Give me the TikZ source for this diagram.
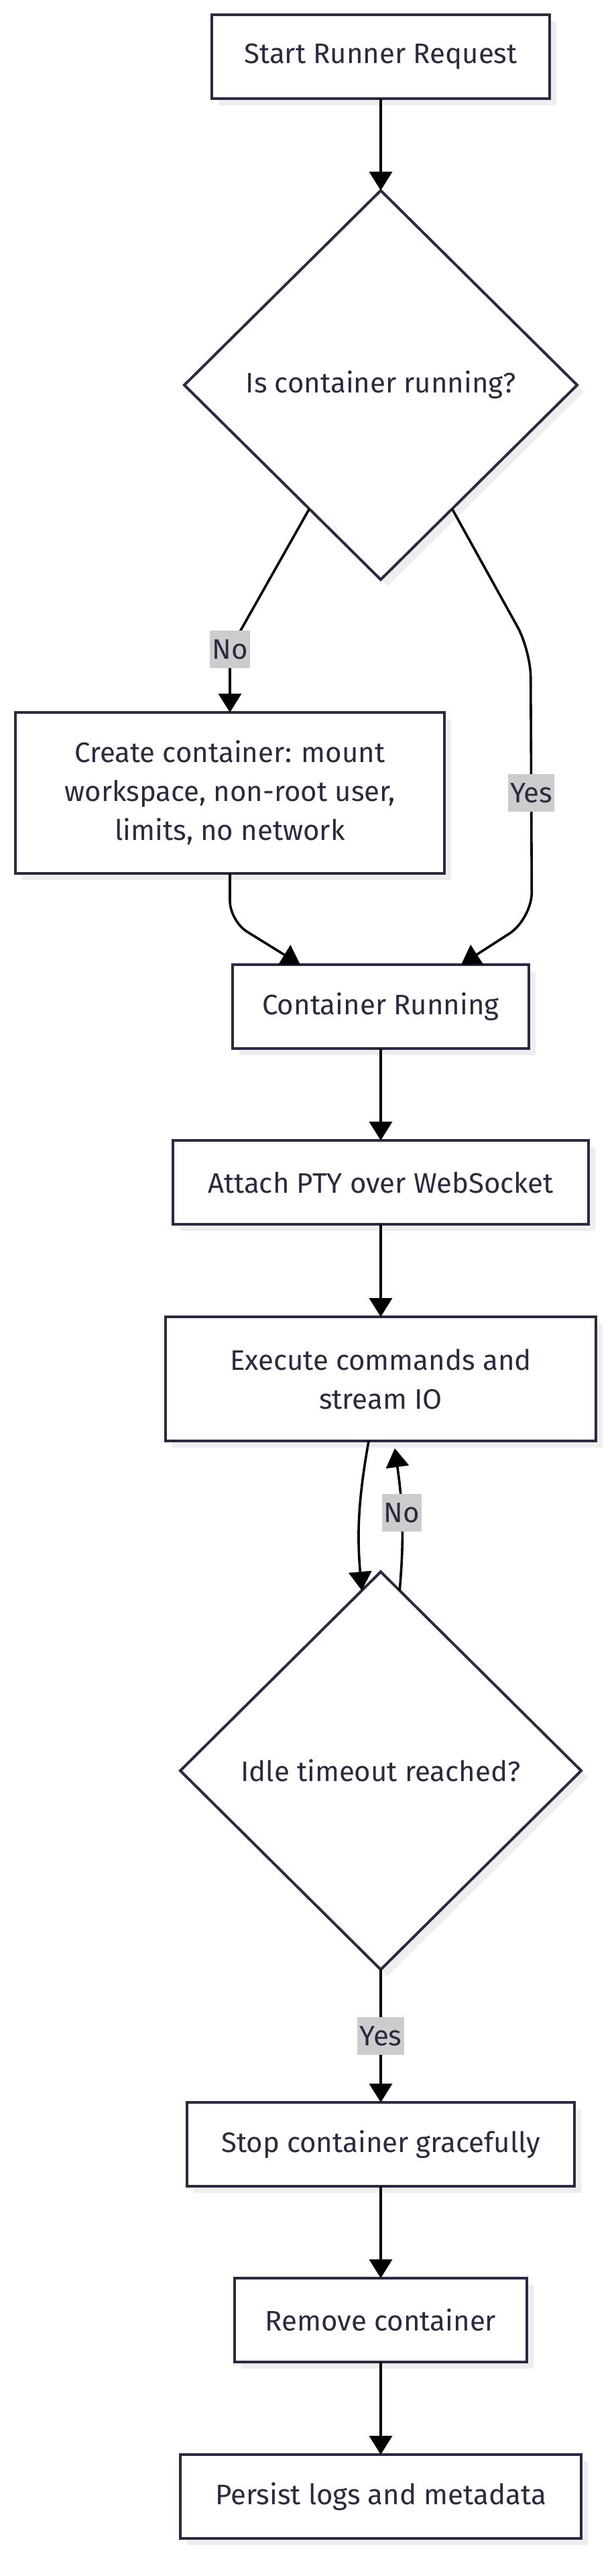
\documentclass[tikz,border=0pt]{standalone}
\usepackage{fontspec}
\setmainfont{Fira Sans}
\usepackage{xcolor}
\usepackage{tikz}
\usetikzlibrary{shapes.geometric, arrows.meta, positioning, calc, shadows}
\definecolor{ink}{RGB}{42,42,64}
\definecolor{edgegray}{RGB}{204,204,204}
\definecolor{shade}{RGB}{238,238,238}

\begin{document}
\begin{tikzpicture}[font=\fontsize{21}{29}\selectfont]
    \tikzstyle{proc} = [rectangle, draw=ink, line width=2pt, fill=white, text=ink, align=center, minimum height=62.5pt, inner sep=0pt, outer sep=0pt, drop shadow={shadow xshift=5pt, shadow yshift=-5pt, fill=shade, opacity=1}]
    \tikzstyle{decision} = [diamond, draw=ink, line width=2pt, fill=white, text=ink, align=center, inner sep=0pt, outer sep=0pt, drop shadow={shadow xshift=5pt, shadow yshift=-5pt, fill=shade, opacity=1}]
    \tikzstyle{arrow} = [line width=1.8pt, -{Triangle[width=17pt,length=14pt]}]
    \tikzstyle{lbl} = [sharp corners, fill=edgegray, text=ink, inner xsep=1.5pt, inner ysep=0pt, minimum height=28pt]

    \useasboundingbox (-284pt,42.25pt) rectangle (175pt,-1877.75pt);

    \node (start) [proc, minimum width=252pt] {Start Runner Request};
    \node (isrun) [decision, below=68.5pt of start, minimum width=293pt, minimum height=290pt] {Is container running?};
    \node (create) [proc, below=99pt of isrun, xshift=-112.5pt, minimum width=320pt, minimum height=120pt] {Create container: mount\\workspace, non-root user,\\limits, no network};
    \node (running) [proc, below=287pt of isrun, minimum width=220.5pt] {Container Running};
    \node (attach) [proc, below=68.5pt of running, minimum width=310pt] {Attach PTY over WebSocket};
    \node (exec) [proc, below=69pt of attach, minimum width=320.5pt, minimum height=92.5pt] {Execute commands and\\stream IO};
    \node (idle) [decision, below=97.5pt of exec, minimum width=299pt, minimum height=296.5pt] {Idle timeout reached?};
    \node (stop) [proc, below=99pt of idle, minimum width=289pt] {Stop container gracefully};
    \node (remove) [proc, below=68.5pt of stop, minimum width=217.5pt] {Remove container};
    \node (persist) [proc, below=69pt of remove, minimum width=299pt] {Persist logs and metadata};

    \draw [arrow] (start) -- (isrun);
    \draw [arrow, rounded corners=15pt] (isrun.240) -- ($(create.north)+(0,47pt)$) node[lbl] {No} -- (create.north);
    \draw [arrow, rounded corners=20pt] (isrun.300) -- ++(58.5pt,-105.5pt) -- node[lbl, pos=0.53] {Yes} ($(running.north east)+(2.5pt,34pt)$) -- ($(running.north)+(60pt,0)$);
    \draw [arrow, rounded corners=15pt] (create.south) -- ++(0,-35.5pt) -- ($(running.north)+(-60pt,0)$);
    \draw [arrow] (running) -- (attach);
    \draw [arrow] (attach) -- (exec);
    \draw [arrow] ($(exec.south)+(-9pt,0)$) to[out=-100, in=95] (idle.96);
    \draw [arrow] (idle.84) to[out=85, in=-82] node[lbl, pos=0.55] {No} ($(exec.south)+(10.5pt,-5.5pt)$);
    \draw [arrow] (idle) -- node[lbl] {Yes} (stop);
    \draw [arrow] (stop) -- (remove);
    \draw [arrow] (remove) -- (persist);
\end{tikzpicture}
\end{document}
